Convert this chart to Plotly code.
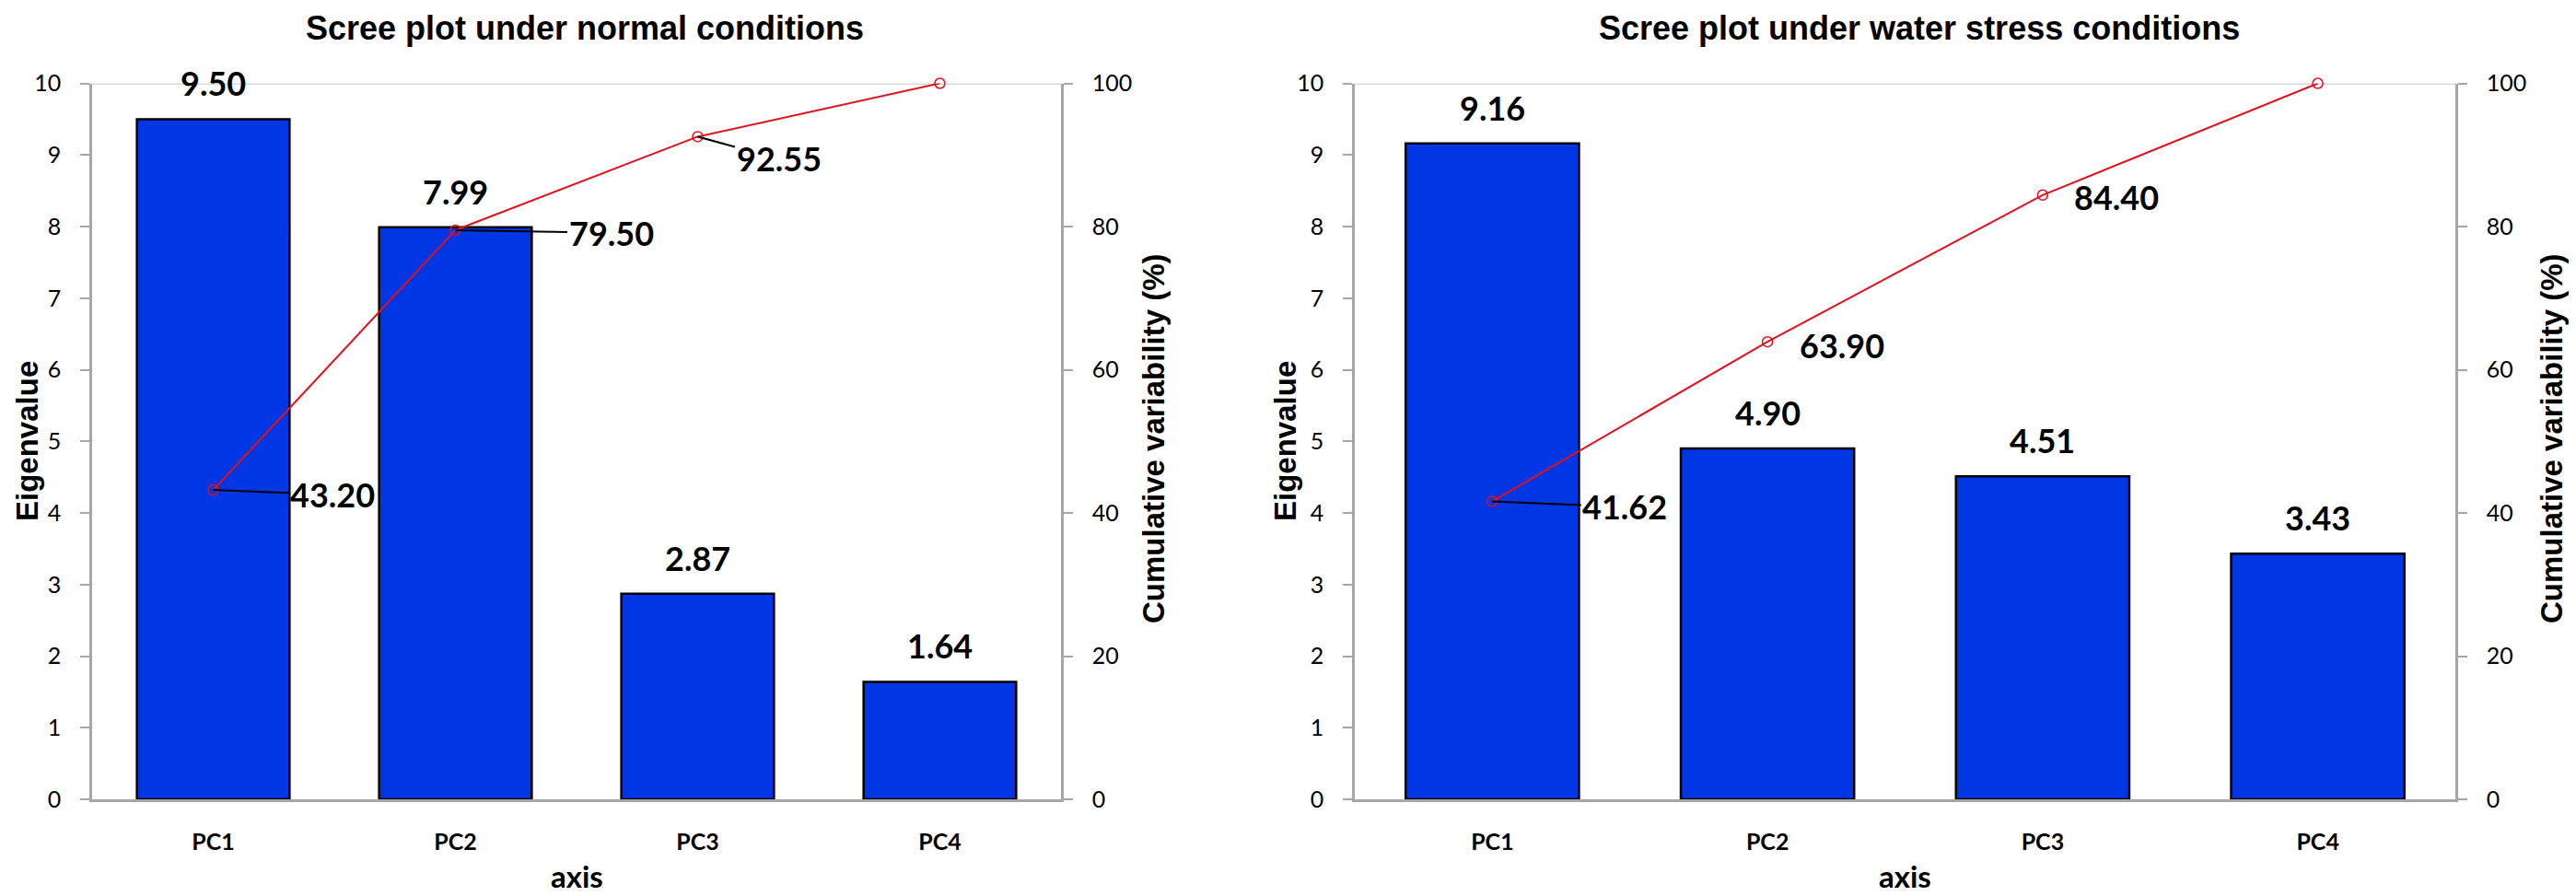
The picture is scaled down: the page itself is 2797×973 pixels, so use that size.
import plotly.graph_objects as go

# ---------------- data ----------------
categories = ["PC1", "PC2", "PC3", "PC4"]

normal_eigen = [9.50, 7.99, 2.87, 1.64]
normal_cum = [43.20, 79.50, 92.55, 100.0]

stress_eigen = [9.16, 4.90, 4.51, 3.43]
stress_cum = [41.62, 63.90, 84.40, 100.0]

panel_titles = ["Scree plot under normal conditions", "Scree plot under water stress conditions"]
eigen_ticks = [0, 1, 2, 3, 4, 5, 6, 7, 8, 9, 10]
cum_ticks = [0, 20, 40, 60, 80, 100]

# ---------------- style ----------------
PAGE_W, PAGE_H = 2797, 973
OFF = 8  # default body margin of the page
W, H = PAGE_W - OFF, PAGE_H - OFF
BAR_COLOR = "#0036E3"
LINE_COLOR = "#E3101C"
AXIS_GRAY = "#A6A6A6"
GRID_GRAY = "#D9D9D9"
CAL = "Lato, Carlito, Calibri, sans-serif"
TICK_FONT = dict(family=CAL, size=25, color="black")
LBL_FONT = dict(family=CAL, size=36, color="black")
ARIAL_B = "Liberation Sans, Arial, sans-serif"

# page pixel geometry -> paper fractions
def px(x):
    return (x - OFF) / W

def py(y):
    return 1 - (y - OFF) / H

left_dom = [px(100), px(1152)]
right_dom = [px(1471), px(2666)]
y_dom = [py(868), py(90.5)]

fig = go.Figure()

panels = [
    dict(eig=normal_eigen, cum=normal_cum, x="x", y="y", y2="y2", dom=left_dom),
    dict(eig=stress_eigen, cum=stress_cum, x="x2", y="y3", y2="y4", dom=right_dom),
]

for p in panels:
    fig.add_trace(go.Bar(
        x=categories, y=p["eig"], xaxis=p["x"], yaxis=p["y"],
        width=0.63, marker=dict(color=BAR_COLOR, line=dict(color="black", width=2.5)),
        showlegend=False, hoverinfo="skip",
    ))
    fig.add_trace(go.Scatter(
        x=categories, y=p["cum"], xaxis=p["x"], yaxis=p["y2"],
        mode="lines+markers", cliponaxis=False,
        line=dict(color=LINE_COLOR, width=2),
        marker=dict(symbol="circle-open", size=11, color=LINE_COLOR, line=dict(width=1.5, color=LINE_COLOR)),
        showlegend=False, hoverinfo="skip",
    ))

common_x = dict(
    showline=True, linecolor=AXIS_GRAY, linewidth=2.5, ticks="", showgrid=False,
    tickfont=TICK_FONT, ticklabelstandoff=22, zeroline=False, automargin=False,
)
left_y = dict(
    range=[0, 10], tickvals=eigen_ticks, showline=True, linecolor=AXIS_GRAY, linewidth=2.5,
    ticks="outside", ticklen=10, tickwidth=2, tickcolor=AXIS_GRAY, showgrid=False,
    zeroline=False, tickfont=TICK_FONT, ticklabelstandoff=16, domain=y_dom, automargin=False,
)
right_y = dict(
    range=[0, 100], tickvals=cum_ticks, showline=True, linecolor=AXIS_GRAY, linewidth=2.5,
    ticks="outside", ticklen=10, tickwidth=2, tickcolor=AXIS_GRAY, showgrid=False,
    zeroline=False, tickfont=TICK_FONT, ticklabelstandoff=16, side="right", automargin=False,
)

fig.update_layout(
    width=W, height=H,
    margin=dict(l=0, r=0, t=0, b=0),
    paper_bgcolor="white", plot_bgcolor="white",
    bargap=0.37,
    xaxis=dict(domain=left_dom, anchor="y", **common_x),
    yaxis=dict(anchor="x", **left_y),
    yaxis2=dict(anchor="x", overlaying="y", **right_y),
    xaxis2=dict(domain=right_dom, anchor="y3", **common_x),
    yaxis3=dict(anchor="x2", **left_y),
    yaxis4=dict(anchor="x2", overlaying="y3", **right_y),
)

# top gridline at max eigenvalue
for xr, yr in [("x domain", "y"), ("x2 domain", "y3")]:
    fig.add_shape(type="line", xref=xr, yref=yr, x0=0, x1=1, y0=10, y1=10,
                  line=dict(color=GRID_GRAY, width=3), layer="below")

ann = []
# bar value labels
for p in panels:
    for c, v in zip(categories, p["eig"]):
        ann.append(dict(x=c, y=v, xref=p["x"], yref=p["y"], text=f"{v:.2f}",
                        showarrow=False, yshift=39, font=LBL_FONT))

# cumulative labels (with leader lines where the original has them)
cum_label_specs = [
    # panel index, category index, ax, ay, leader
    (0, 0, 129, 5, True),
    (0, 1, 169, 3, True),
    (0, 2, 88, 24, True),
    (1, 0, 144, 6, True),
    (1, 1, 81, 4, False),
    (1, 2, 80, 2, False),
]
for pi, ci, ax, ay, leader in cum_label_specs:
    p = panels[pi]
    v = p["cum"][ci]
    if leader:
        ann.append(dict(x=categories[ci], y=v, xref=p["x"], yref=p["y2"], text=f"{v:.2f}",
                        showarrow=True, arrowhead=0, arrowwidth=2, arrowcolor="black",
                        ax=ax, ay=ay, standoff=0, font=LBL_FONT))
    else:
        ann.append(dict(x=categories[ci], y=v, xref=p["x"], yref=p["y2"], text=f"{v:.2f}",
                        showarrow=False, xshift=ax, yshift=-ay, font=LBL_FONT))

# panel titles
for xc, t in zip([635, 2084], panel_titles):
    ann.append(dict(x=px(xc), y=1, xref="paper", yref="paper", text=t,
                    showarrow=False, font=dict(family=ARIAL_B, size=36, color="black"),
                    xanchor="center", yanchor="top"))

# axis titles
AX_T = dict(family=ARIAL_B, size=33, color="black")
for xc in [29, 1395]:
    ann.append(dict(x=px(xc), y=py(479), xref="paper", yref="paper", text="Eigenvalue",
                    textangle=-90, showarrow=False, font=AX_T, xanchor="center", yanchor="middle"))
for xc in [1252, 2770]:
    ann.append(dict(x=px(xc), y=py(476), xref="paper", yref="paper", text="Cumulative variability (%)",
                    textangle=-90, showarrow=False, font=AX_T, xanchor="center", yanchor="middle"))
for xc in [626, 2068]:
    ann.append(dict(x=px(xc), y=0, xref="paper", yref="paper", text="axis",
                    showarrow=False, font=dict(family=CAL, size=33, color="black"),
                    xanchor="center", yanchor="bottom"))

# bold texts
for a in ann:
    a["text"] = f"<b>{a['text']}</b>"

fig.update_layout(annotations=ann)
fig.update_xaxes(tickprefix="<b>", ticksuffix="</b>")
fig.update_yaxes(tickprefix="<b>", ticksuffix="</b>")

fig.write_html("out.html")
